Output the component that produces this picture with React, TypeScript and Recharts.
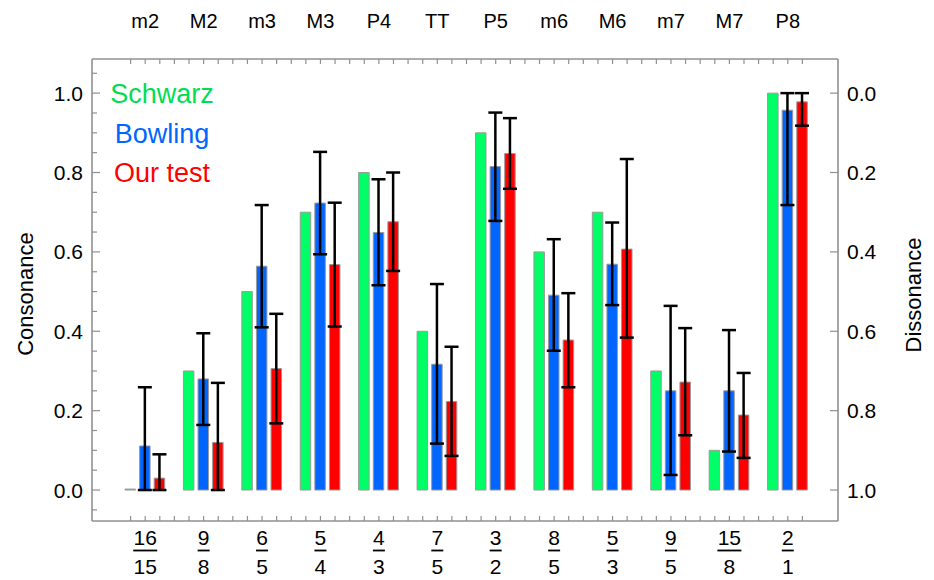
import React from 'react';
import { BarChart, Bar, XAxis, YAxis, ErrorBar } from 'recharts';

// Consonance ratings of the twelve intervals: Schwarz, Bowling and our own test

const INTERVALS = ['m2', 'M2', 'm3', 'M3', 'P4', 'TT', 'P5', 'm6', 'M6', 'm7', 'M7', 'P8'];
const NUMERATORS = [16, 9, 6, 5, 4, 7, 3, 8, 5, 9, 15, 2];
const DENOMINATORS = [15, 8, 5, 4, 3, 5, 2, 5, 3, 5, 8, 1];

const SCHWARZ = [0, 0.3, 0.5, 0.7, 0.8, 0.4, 0.9, 0.6, 0.7, 0.3, 0.1, 1.0];

const BOWLING = [0.111, 0.28, 0.564, 0.723, 0.649, 0.317, 0.815, 0.491, 0.569, 0.25, 0.25, 0.957];
const BOWLING_LO = [0, 0.164, 0.41, 0.594, 0.516, 0.117, 0.678, 0.351, 0.466, 0.038, 0.097, 0.718];
const BOWLING_HI = [0.259, 0.395, 0.718, 0.852, 0.783, 0.519, 0.951, 0.632, 0.674, 0.464, 0.403, 1.0];

const OUR_TEST = [0.03, 0.12, 0.306, 0.568, 0.676, 0.223, 0.848, 0.378, 0.607, 0.272, 0.189, 0.978];
const OUR_LO = [0, 0, 0.168, 0.412, 0.552, 0.086, 0.759, 0.259, 0.384, 0.138, 0.081, 0.918];
const OUR_HI = [0.09, 0.27, 0.444, 0.724, 0.8, 0.361, 0.937, 0.496, 0.834, 0.408, 0.295, 1.0];

const LEFT_TICKS = [-0.05, 0, 0.05, 0.1, 0.15, 0.2, 0.25, 0.3, 0.35, 0.4, 0.45, 0.5, 0.55, 0.6, 0.65, 0.7, 0.75, 0.8, 0.85, 0.9, 0.95, 1.0, 1.05];
const RIGHT_TICKS = [0, 0.2, 0.4, 0.6, 0.8, 1.0];

const data = INTERVALS.map((name, i) => ({
  name,
  frac: `${NUMERATORS[i]}/${DENOMINATORS[i]}`,
  schwarz: SCHWARZ[i],
  bowling: BOWLING[i],
  bowlingErr: [BOWLING[i] - BOWLING_LO[i], BOWLING_HI[i] - BOWLING[i]],
  ours: OUR_TEST[i],
  oursErr: [OUR_TEST[i] - OUR_LO[i], OUR_HI[i] - OUR_TEST[i]],
}));

const W = 934;
const H = 580;
const LEFT = 92;
const RIGHT = 838;
const TOP = 59;
const BOTTOM = 521;

const FONT = '"Liberation Sans", Arial, sans-serif';
const FS = 21;
const FRAME = '#909090';
const BAR_SIZE = 10.5;
const BAR_GAP = 4.1;
const SLOT = BAR_SIZE + BAR_GAP;

const GREEN = '#00ff66';
const BLUE = '#0066ff';
const RED = '#ff0000';

const isMajor = (v: number) => Math.abs(v * 5 - Math.round(v * 5)) < 1e-6 && v >= 0;

const LeftTick = (props: any) => {
  const { y, payload } = props;
  const v = payload.value;
  const major = isMajor(v);
  return (
    <g>
      <line x1={LEFT} x2={LEFT + (major ? 8 : 5)} y1={y} y2={y} stroke={FRAME} strokeWidth={1.2} />
      {major && (
        <text x={83} y={y + 7.5} textAnchor="end" fontSize={FS} fontFamily={FONT} fill="#000">
          {v.toFixed(1)}
        </text>
      )}
    </g>
  );
};

const RightTick = (props: any) => {
  const { y, payload } = props;
  return (
    <g>
      <line x1={RIGHT - 8} x2={RIGHT} y1={y} y2={y} stroke={FRAME} strokeWidth={1.2} />
      <text x={847} y={y + 7.5} textAnchor="start" fontSize={FS} fontFamily={FONT} fill="#000">
        {(1 - payload.value).toFixed(1)}
      </text>
    </g>
  );
};

// one tick per bar slot, plus one in the gap between groups
const slotTicks = (x: number, last: boolean, y0: number, dir: number) => {
  const offs = last ? [-SLOT, 0, SLOT] : [-SLOT, 0, SLOT, 2 * SLOT];
  return offs.map((o, k) => (
    <line key={k} x1={x + o} x2={x + o} y1={y0} y2={y0 + dir * 5} stroke={FRAME} strokeWidth={1.2} />
  ));
};

const TopTick = (props: any) => {
  const { x, payload, index } = props;
  return (
    <g>
      {slotTicks(x, index === INTERVALS.length - 1, TOP, 1)}
      <text x={x} y={28} textAnchor="middle" fontSize={20} fontFamily={FONT} fill="#000">
        {payload.value}
      </text>
    </g>
  );
};

const BottomTick = (props: any) => {
  const { x, payload, index } = props;
  const [num, den] = String(payload.value).split('/');
  const barW = 12 * Math.max(num.length, den.length);
  return (
    <g>
      {slotTicks(x, index === INTERVALS.length - 1, BOTTOM, -1)}
      <text x={x} y={545} textAnchor="middle" fontSize={FS} fontFamily={FONT} fill="#000">{num}</text>
      <line x1={x - barW / 2} x2={x + barW / 2} y1={550.5} y2={550.5} stroke="#000" strokeWidth={1.8} />
      <text x={x} y={574} textAnchor="middle" fontSize={FS} fontFamily={FONT} fill="#000">{den}</text>
    </g>
  );
};

const barStroke = { stroke: '#9a9a9a', strokeWidth: 1 };

export default function App() {
  return (
    <div style={{ position: 'absolute', left: 0, top: 0, width: W, height: H, background: '#fff' }}>
      <BarChart
        width={W}
        height={H}
        data={data}
        barSize={BAR_SIZE}
        barGap={BAR_GAP}
        margin={{ top: 19, bottom: 4, left: 22, right: 16 }}
      >
        <XAxis
          xAxisId="bottom"
          dataKey="frac"
          orientation="bottom"
          height={55}
          padding={{ left: 24, right: 21 }}
          axisLine={{ stroke: FRAME, strokeWidth: 1.6 }}
          tickLine={false}
          tick={<BottomTick />}
          interval={0}
        />
        <XAxis
          xAxisId="top"
          dataKey="name"
          orientation="top"
          height={40}
          padding={{ left: 24, right: 21 }}
          axisLine={{ stroke: FRAME, strokeWidth: 1.6 }}
          tickLine={false}
          tick={<TopTick />}
          interval={0}
        />
        <YAxis
          yAxisId="left"
          type="number"
          width={70}
          domain={[-0.078, 1.086]}
          ticks={LEFT_TICKS}
          interval={0}
          allowDataOverflow
          axisLine={{ stroke: FRAME, strokeWidth: 1.6 }}
          tickLine={false}
          tick={<LeftTick />}
          label={() => (
            <text
              x={25}
              y={294}
              transform="rotate(-90 25 294)"
              textAnchor="middle"
              dominantBaseline="central"
              fontSize={22}
              fontFamily={FONT}
              fill="#000"
            >
              Consonance
            </text>
          )}
        />
        <YAxis
          yAxisId="right"
          orientation="right"
          type="number"
          width={80}
          domain={[-0.078, 1.086]}
          ticks={RIGHT_TICKS}
          interval={0}
          allowDataOverflow
          axisLine={{ stroke: FRAME, strokeWidth: 1.6 }}
          tickLine={false}
          tick={<RightTick />}
          label={() => (
            <text
              x={913}
              y={295}
              transform="rotate(-90 913 295)"
              textAnchor="middle"
              dominantBaseline="central"
              fontSize={22}
              fontFamily={FONT}
              fill="#000"
            >
              Dissonance
            </text>
          )}
        />
        <Bar dataKey="schwarz" xAxisId="bottom" yAxisId="left" fill={GREEN} {...barStroke} minPointSize={1} isAnimationActive={false} />
        <Bar dataKey="bowling" xAxisId="bottom" yAxisId="left" fill={BLUE} {...barStroke} isAnimationActive={false}>
          <ErrorBar dataKey="bowlingErr" width={7} stroke="#000" strokeWidth={2.5} isAnimationActive={false} />
        </Bar>
        <Bar dataKey="ours" xAxisId="bottom" yAxisId="left" fill={RED} {...barStroke} isAnimationActive={false}>
          <ErrorBar dataKey="oursErr" width={7} stroke="#000" strokeWidth={2.5} isAnimationActive={false} />
        </Bar>
        {/* series captions inside the plot */}
        <text x={162} y={103} textAnchor="middle" fontSize={27} fontFamily={FONT} fill="#00dd55">Schwarz</text>
        <text x={162} y={143} textAnchor="middle" fontSize={27} fontFamily={FONT} fill={BLUE}>Bowling</text>
        <text x={162} y={182} textAnchor="middle" fontSize={27} fontFamily={FONT} fill={RED}>Our test</text>
      </BarChart>
    </div>
  );
}
